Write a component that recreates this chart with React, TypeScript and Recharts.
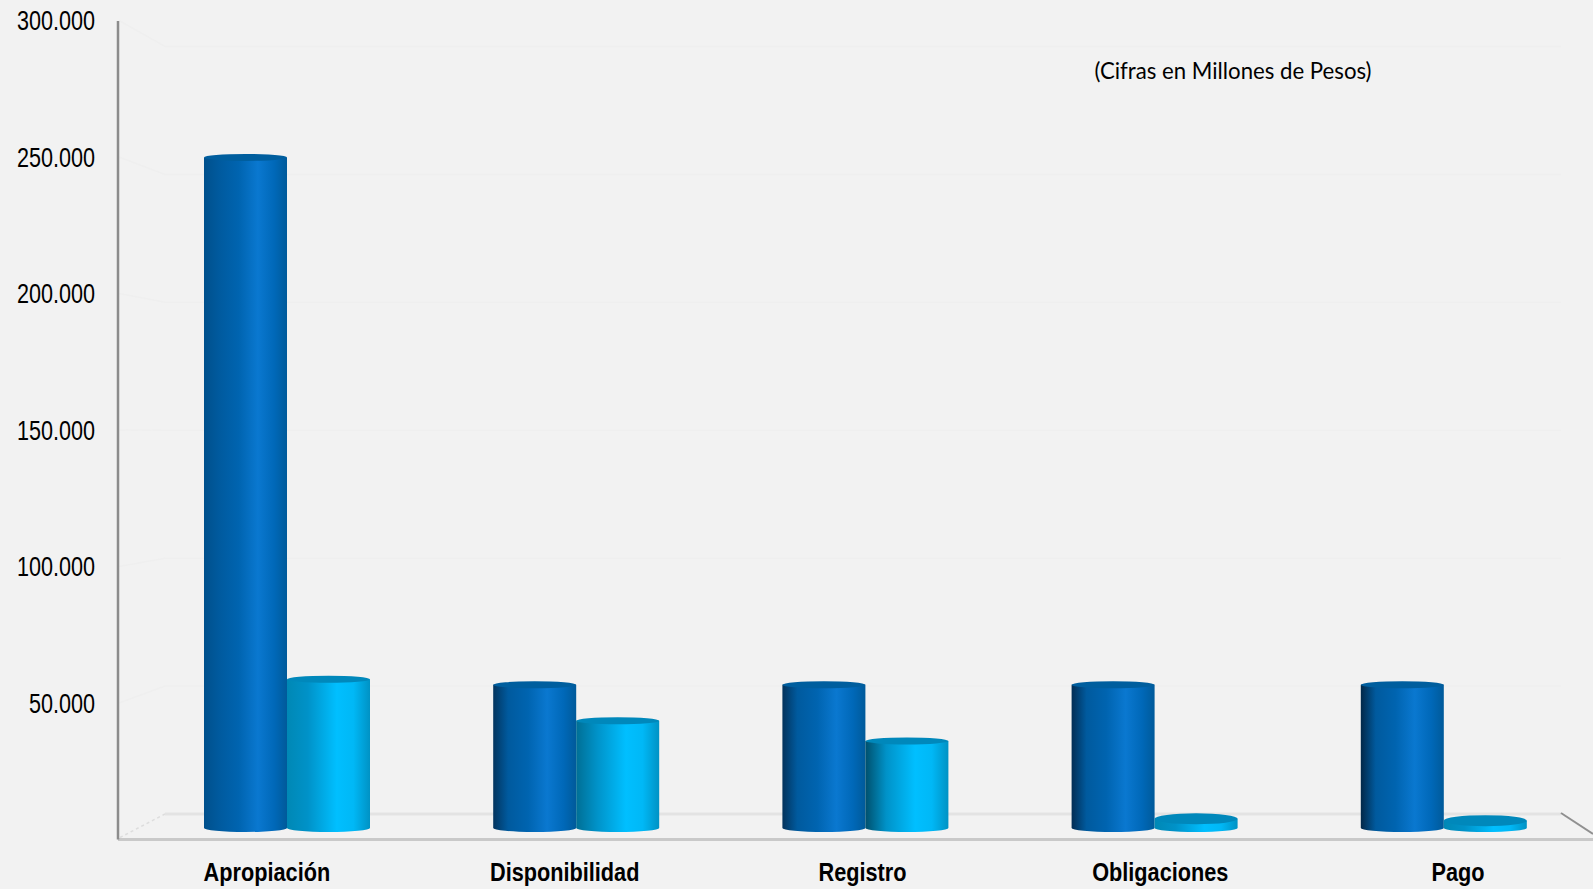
import { BarChart, Bar, XAxis, YAxis, CartesianGrid } from "recharts";

const categories = ["Apropiación", "Disponibilidad", "Registro", "Obligaciones", "Pago"];
const apropiacion = [250000, 56700, 56700, 56700, 56700];
const ejecucion = [58700, 43500, 36100, 7600, 6900];
const yTicks = [50000, 100000, 150000, 200000, 250000, 300000];
const wallTicks = [0, ...yTicks];

// the shading on the left of each cylinder differs from one category to the next
const darkEdges = ["#00508c", "#03355f", "#03335c", "#022d54", "#022848"];
const lightEdges = ["#0088b5", "#006f95", "#00506d", "#0088b5", "#0088b5"];

const chartData = categories.map((name, i) => ({
  name,
  dark: apropiacion[i],
  light: ejecucion[i],
}));

const WIDTH = 1593;
const HEIGHT = 889;
const AXIS_X = 118;
const PLOT_TOP = 21;
const PLOT_BOTTOM = 839.5;
const WALL_LEFT = 165;
const WALL_RIGHT = 1561;
const WALL_FLOOR = 814;
const WALL_TOP = 47;
const BG = "#f2f2f2";
const NARROW = "'Liberation Sans', Arial, sans-serif";

const frontY = (v: number) => PLOT_BOTTOM - (v * (PLOT_BOTTOM - PLOT_TOP)) / 300000;

const formatTick = (v: number) => v.toLocaleString("es-CO").replace(/,/g, ".");

// horizontal grid on the back wall: y=0 is the floor edge, the rest are value lines
const WallLine = (props: any) => {
  const y = props.y1;
  const value = ((WALL_FLOOR - y) * 300000) / (WALL_FLOOR - WALL_TOP);
  if (value < 1000) {
    return (
      <g key="floor" fill="none">
        <path
          d={`M${AXIS_X + 2} ${PLOT_BOTTOM - 2} L${WALL_LEFT} ${y}`}
          stroke="#dddddd"
          strokeWidth={1.5}
          strokeDasharray="3 3"
        />
        <path d={`M${WALL_LEFT} ${y} L${WALL_RIGHT} ${y}`} stroke="#e3e3e3" strokeWidth={3} />
        <path d={`M${WALL_RIGHT} ${y - 1} L${WIDTH} ${y + 20}`} stroke="#909090" strokeWidth={2} />
      </g>
    );
  }
  return (
    <path
      key={y}
      d={`M${AXIS_X + 1} ${frontY(value)} L${WALL_LEFT} ${y} L${WALL_RIGHT} ${y}`}
      fill="none"
      stroke="#efefef"
      strokeWidth={1.5}
    />
  );
};

const Cylinder = (props: any, gradient: string, topColor: string) => {
  const { x, y, width, height, index } = props;
  const base = y + height - 11.5;
  const rx = width / 2;
  const ry = height < 60 ? 5.5 : 3.5;
  const right = x + width;
  const side = `M${x} ${y} L${x} ${base} A${rx} 4 0 0 0 ${right} ${base} L${right} ${y} Z`;
  return (
    <g>
      <path d={side} fill={`url(#${gradient}${index})`} />
      <ellipse cx={x + rx} cy={y} rx={rx} ry={ry} fill={topColor} />
    </g>
  );
};

// Arial Narrow look: no narrow face installed, so squeeze the regular one
const ValueTick = (props: any) => (
  <text
    transform={`translate(${props.x},${props.y}) scale(0.8,1)`}
    dy="0.35em"
    textAnchor="end"
    fontFamily={NARROW}
    fontSize={27}
    fill="#000000"
  >
    {formatTick(props.payload.value)}
  </text>
);

const CategoryTick = (props: any) => (
  <text
    transform={`translate(${props.x},881) scale(0.835,1)`}
    textAnchor="middle"
    fontFamily={NARROW}
    fontSize={26}
    fontWeight={700}
    fill="#000000"
  >
    {props.payload.value}
  </text>
);

export default function App() {
  return (
    <div
      style={{
        position: "absolute",
        left: 0,
        top: 0,
        width: WIDTH,
        height: HEIGHT,
        background: BG,
        overflow: "hidden",
      }}
    >
      <BarChart
        width={WIDTH}
        height={HEIGHT}
        data={chartData}
        margin={{ top: PLOT_TOP, right: 0, bottom: 0, left: 0 }}
        barSize={83}
        barGap={0}
      >
        <defs>
          {darkEdges.map((edge, i) => (
            <linearGradient key={i} id={`darkBar${i}`} x1="0" y1="0" x2="1" y2="0">
              <stop offset="0%" stopColor={edge} />
              <stop offset="18%" stopColor="#005a9e" />
              <stop offset="42%" stopColor="#0064b0" />
              <stop offset="65%" stopColor="#0a78d0" />
              <stop offset="85%" stopColor="#0068b8" />
              <stop offset="100%" stopColor="#005a9a" />
            </linearGradient>
          ))}
          {lightEdges.map((edge, i) => (
            <linearGradient key={i} id={`lightBar${i}`} x1="0" y1="0" x2="1" y2="0">
              <stop offset="0%" stopColor={edge} />
              <stop offset="25%" stopColor="#0092c8" />
              <stop offset="60%" stopColor="#00bfff" />
              <stop offset="80%" stopColor="#00b8f6" />
              <stop offset="100%" stopColor="#0092c4" />
            </linearGradient>
          ))}
        </defs>
        <XAxis
          xAxisId="label"
          dataKey="name"
          interval={0}
          height={HEIGHT - PLOT_BOTTOM}
          padding={{ left: 0, right: -14 }}
          axisLine={{ stroke: "#c9c9c9", strokeWidth: 3 }}
          tickLine={false}
          tick={CategoryTick}
        />
        <XAxis xAxisId="bars" dataKey="name" hide height={0} padding={{ left: 24, right: 5 }} />
        <YAxis
          yAxisId="front"
          width={AXIS_X}
          domain={[0, 300000]}
          ticks={yTicks}
          axisLine={{ stroke: "#8c8c8c", strokeWidth: 2.5 }}
          tickLine={false}
          tickMargin={17}
          tick={ValueTick}
        />
        <YAxis yAxisId="wall" hide domain={[-9974, 309974]} ticks={wallTicks} allowDataOverflow />
        <CartesianGrid
          xAxisId="bars"
          yAxisId="wall"
          vertical={false}
          horizontalValues={wallTicks}
          horizontal={WallLine}
        />
        <Bar
          xAxisId="bars"
          yAxisId="front"
          dataKey="dark"
          isAnimationActive={false}
          shape={(p: any) => Cylinder(p, "darkBar", "#005e9e")}
        />
        <Bar
          xAxisId="bars"
          yAxisId="front"
          dataKey="light"
          isAnimationActive={false}
          shape={(p: any) => Cylinder(p, "lightBar", "#0088bb")}
        />
      </BarChart>
      <div
        style={{
          position: "absolute",
          left: 1093,
          top: 57,
          width: 280,
          textAlign: "center",
          fontFamily: "Lato, 'Open Sans', sans-serif",
          fontSize: 22.2,
          lineHeight: "28px",
          whiteSpace: "nowrap",
          color: "#000000",
        }}
      >
        (Cifras en Millones de Pesos)
      </div>
    </div>
  );
}
